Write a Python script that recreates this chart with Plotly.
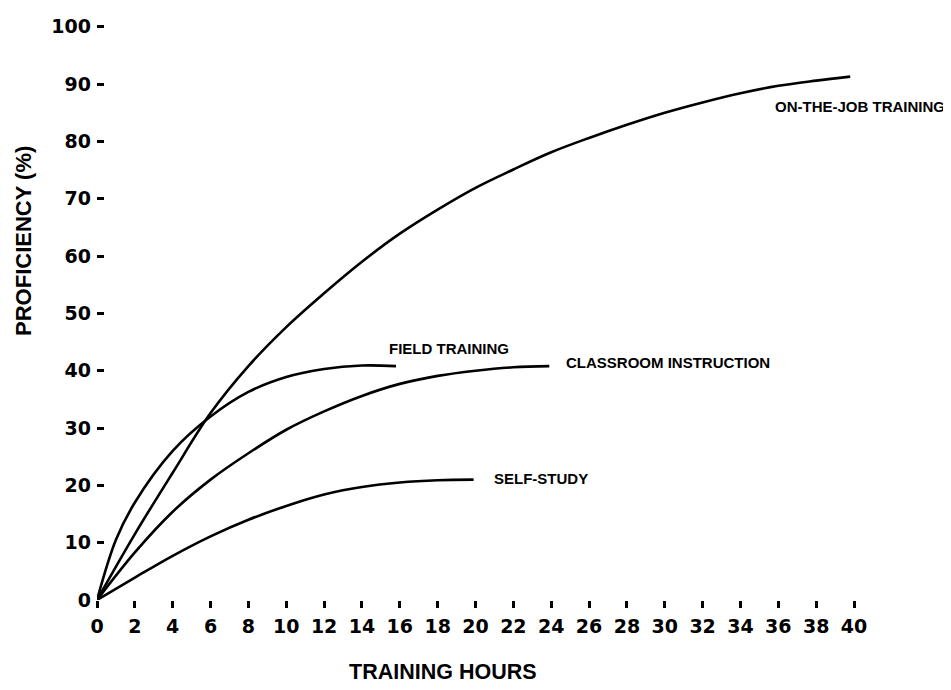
import plotly.graph_objects as go

# ---- data ----
otj_hours = [0, 2, 4, 6, 8, 10, 12, 14, 16, 18, 20, 22, 24, 26, 28, 30, 32, 34, 36, 38, 39.8]
otj_prof = [0, 11.5, 22.2, 32.6, 40.8, 47.6, 53.5, 59.0, 63.9, 68.1, 71.9, 75.1, 78.1, 80.6, 82.9, 85.0, 86.8, 88.4, 89.7, 90.6, 91.3]

field_hours = [0, 1, 2, 4, 6, 8, 10, 12, 14, 15.8]
field_prof = [0, 10.5, 17.0, 26.0, 32.0, 36.3, 38.9, 40.3, 40.9, 40.8]

class_hours = [0, 2, 4, 6, 8, 10, 12, 14, 16, 18, 20, 22, 23.9]
class_prof = [0, 8.3, 15.4, 21.0, 25.6, 29.7, 32.9, 35.6, 37.7, 39.1, 40.0, 40.6, 40.8]

self_hours = [0, 2, 4, 6, 8, 10, 12, 14, 16, 18, 19.9]
self_prof = [0, 3.9, 7.7, 11.1, 14.0, 16.4, 18.4, 19.7, 20.5, 20.9, 21.0]

series_names = ["ON-THE-JOB TRAINING", "FIELD TRAINING", "CLASSROOM INSTRUCTION", "SELF-STUDY"]
label_hours = [35.7, 15.3, 24.7, 20.85]
label_prof = [86.0, 43.9, 41.5, 21.2]

x_ticks = list(range(0, 41, 2))
y_ticks = list(range(0, 101, 10))
x_title = "TRAINING HOURS"
y_title = "PROFICIENCY (%)"

FONT = "Liberation Sans, Arial, sans-serif"
TICKFONT = "DejaVu Sans, sans-serif"

fig = go.Figure()
for hx, py in [(otj_hours, otj_prof), (field_hours, field_prof),
               (class_hours, class_prof), (self_hours, self_prof)]:
    fig.add_trace(go.Scatter(x=hx, y=py, mode="lines",
                             line=dict(color="black", width=2.6, shape="spline", smoothing=1.0),
                             showlegend=False, hoverinfo="skip"))

for name, lx, ly in zip(series_names, label_hours, label_prof):
    fig.add_annotation(x=lx, y=ly, xref="x", yref="y", text=name, showarrow=False,
                       xanchor="left", yanchor="middle",
                       font=dict(family=FONT, size=15, color="black", weight="bold"))

fig.add_annotation(x=-0.0978, y=0.62, xref="paper", yref="paper", text=y_title,
                   showarrow=False, textangle=-90, xanchor="center", yanchor="middle",
                   font=dict(family=FONT, size=22, color="black", weight="bold"))
fig.add_annotation(x=0.457, y=-0.124, xref="paper", yref="paper", text=x_title,
                   showarrow=False, xanchor="center", yanchor="middle",
                   font=dict(family=FONT, size=21.5, color="black", weight="bold"))

fig.update_layout(
    width=943, height=682,
    margin=dict(l=89, r=97, t=7, b=90),
    paper_bgcolor="white", plot_bgcolor="white",
    xaxis=dict(range=[0, 40], tickvals=x_ticks, ticktext=[str(v) for v in x_ticks],
               showgrid=False, zeroline=False, showline=False,
               ticks="outside", ticklen=7, tickwidth=2.5, tickcolor="black",
               ticklabelstandoff=2,
               tickfont=dict(family=TICKFONT, size=19, color="black", weight="bold")),
    yaxis=dict(range=[0, 101], tickvals=y_ticks, ticktext=[str(v) for v in y_ticks],
               showgrid=False, zeroline=False, showline=False,
               ticks="inside", ticklen=7, tickwidth=3, tickcolor="black",
               ticklabelstandoff=5,
               tickfont=dict(family=TICKFONT, size=19, color="black", weight="bold")),
)

fig.write_html("out.html")
